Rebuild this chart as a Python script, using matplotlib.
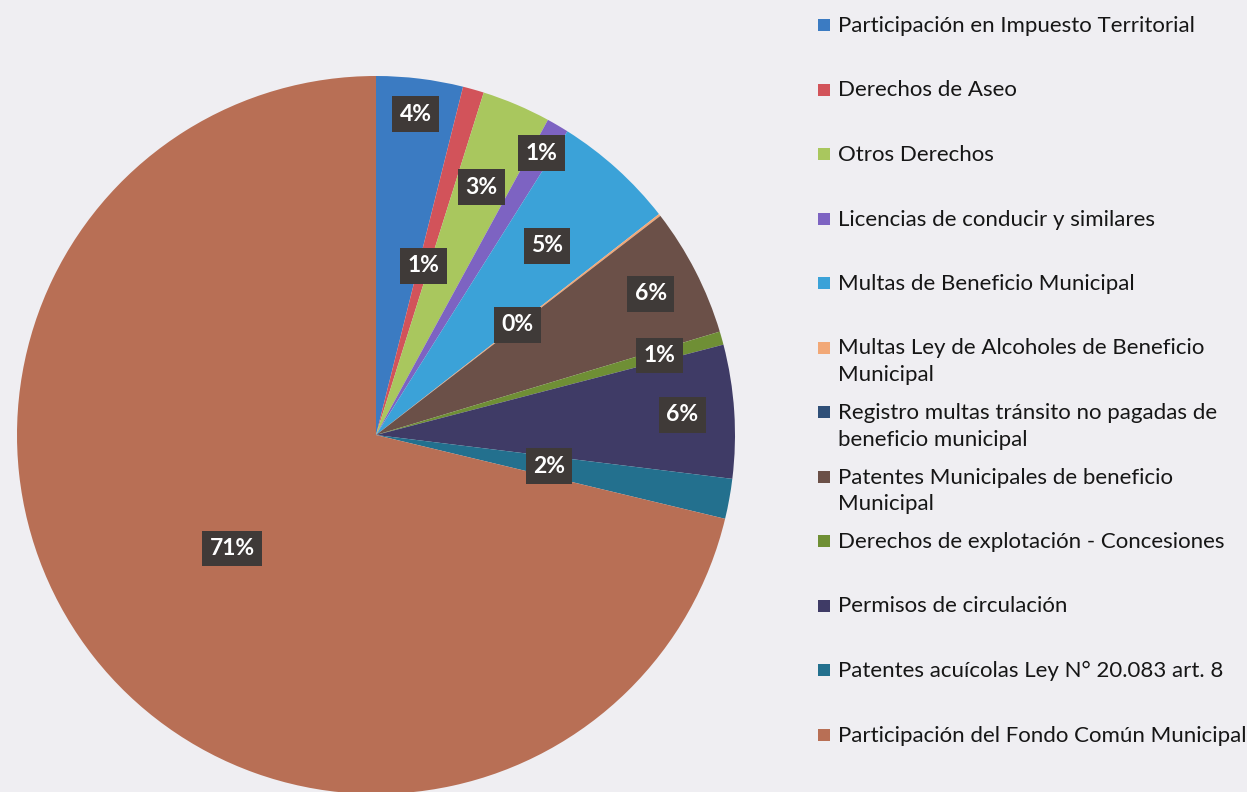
# ======================================================= #
# LIBRARIES
# ======================================================= #
import matplotlib
matplotlib.use("Agg")
import matplotlib.pyplot as plt
import numpy as np
from matplotlib.patches import Rectangle


# ======================================================= #
# DATA
# ======================================================= #
labels = [
    "Participación en Impuesto Territorial",
    "Derechos de Aseo",
    "Otros Derechos",
    "Licencias de conducir y similares",
    "Multas de Beneficio Municipal",
    "Multas Ley de Alcoholes de Beneficio\nMunicipal",
    "Registro multas tránsito no pagadas de\nbeneficio municipal",
    "Patentes Municipales de beneficio\nMunicipal",
    "Derechos de explotación - Concesiones",
    "Permisos de circulación",
    "Patentes acuícolas Ley N° 20.083 art. 8",
    "Participación del Fondo Común Municipal",
]
# "Registro multas" has no visible slice in the chart
shares = [3.9, 0.95, 3.1, 1.0, 5.5, 0.1, 0.0, 5.8, 0.6, 6.0, 1.8, 71.25]
pct_text = ["4%", "1%", "3%", "1%", "5%", "0%", None, "6%", "1%", "6%", "2%", "71%"]
colors = ["#3b7bc2", "#d2535a", "#a9c75e", "#7d63c2", "#3ba2d8", "#f2a877",
          "#2f4f78", "#6b5048", "#6f8f35", "#3f3b66", "#23708e", "#b86f55"]
# radial position of each percent label (fraction of radius)
label_r = [0.90, 0.49, 0.75, 0.91, 0.71, 0.50, 0.0, 0.86, 0.82, 0.855, 0.49, 0.51]


# ======================================================= #
# FIGURE
# ======================================================= #
W, H = 1247, 792
fig = plt.figure(figsize=(W / 100, H / 100), dpi=100)
fig.patch.set_facecolor("#efeef2")
ax = fig.add_axes([0, 0, 1, 1])

cx, cy, rad = 376, H - 435, 359

# pie (skip zero slices)
idx = [i for i, v in enumerate(shares) if v > 0]
wedges, _ = ax.pie([shares[i] for i in idx], colors=[colors[i] for i in idx],
                   startangle=90, counterclock=False, center=(cx, cy), radius=rad,
                   wedgeprops=dict(linewidth=0), frame=True)
ax.set_xlim(0, W)
ax.set_ylim(0, H)
ax.axis("off")

# percent labels
for w, i in zip(wedges, idx):
    mid = np.deg2rad((w.theta1 + w.theta2) / 2)
    x = cx + label_r[i] * rad * np.cos(mid)
    y = cy + label_r[i] * rad * np.sin(mid)
    ax.text(x, y, pct_text[i], ha="center", va="center", color="white",
            fontsize=16.5, family="Lato", fontweight="bold",
            bbox=dict(boxstyle="square,pad=0.32", facecolor="#3f3a38", edgecolor="none"))

# legend (manual, first line aligned with the marker)
y0, dy = H - 25, 64.5
for i, lab in enumerate(labels):
    y = y0 - i * dy
    ax.add_patch(Rectangle((818, y - 6), 12, 12, facecolor=colors[i], edgecolor="none"))
    ax.text(838, y + 9, lab, ha="left", va="top", fontsize=16, family="Lato",
            color="#161616", linespacing=1.42)

fig.savefig("out.png", dpi=100, facecolor=fig.get_facecolor())
